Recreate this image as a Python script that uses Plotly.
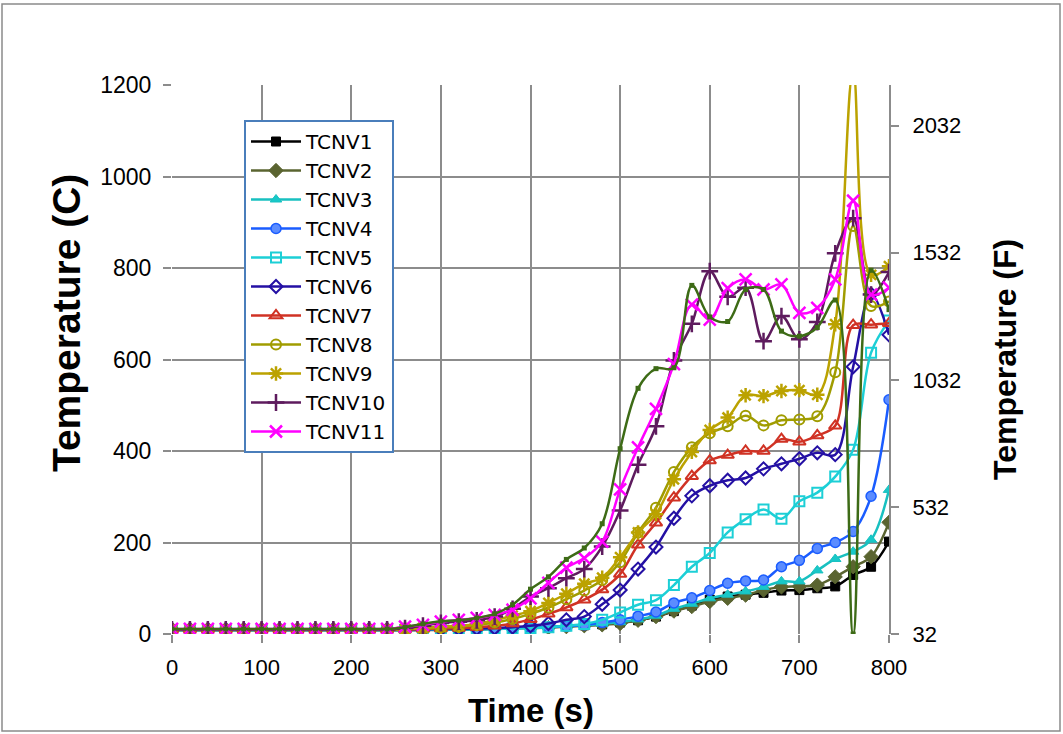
import plotly.graph_objects as go

# Time axis (s), one reading every 20 s
time_s = list(range(0, 801, 20))

# Thermocouple temperatures (C)
tcnv1 = [9]*13 + [9, 9, 10, 10, 11, 12, 13, 14, 15, 17, 19, 21, 25, 30, 38, 50, 62, 75, 82, 86, 90, 95, 96, 100, 104, 129, 147, 202]
tcnv2 = [8]*13 + [8, 9, 9, 10, 10, 11, 12, 13, 14, 16, 18, 20, 23, 30, 38, 50, 60, 71, 78, 85, 96, 103, 104, 107, 125, 147, 169, 244]
tcnv3 = [9]*13 + [9, 10, 10, 11, 11, 12, 13, 14, 15, 17, 19, 22, 26, 32, 40, 55, 66, 78, 86, 93, 103, 115, 115, 139, 164, 180, 206, 315]
tcnv4 = [10]*13 + [10, 10, 11, 11, 11, 12, 13, 14, 15, 17, 20, 25, 31, 39, 48, 68, 79, 95, 111, 116, 118, 147, 161, 187, 200, 224, 301, 512]
tcnv5 = [9]*13 + [9, 9, 10, 10, 10, 11, 12, 13, 15, 18, 22, 31, 47, 64, 74, 107, 147, 177, 222, 251, 272, 252, 290, 309, 344, 403, 615, 685]
tcnv6 = [10]*13 + [10, 10, 11, 11, 12, 13, 15, 18, 23, 31, 38, 65, 96, 142, 190, 253, 302, 324, 336, 341, 361, 372, 383, 396, 392, 584, 743, 654]
tcnv7 = [10]*13 + [10, 11, 12, 13, 15, 18, 23, 32, 44, 58, 75, 97, 131, 195, 243, 298, 345, 379, 391, 400, 400, 426, 420, 434, 455, 675, 676, 679]
tcnv8 = [10]*13 + [11, 12, 14, 16, 20, 25, 33, 44, 58, 76, 95, 118, 157, 222, 276, 354, 408, 439, 454, 477, 456, 467, 469, 476, 572, 892, 717, 727]
tcnv9 = [10]*13 + [11, 13, 16, 18, 22, 30, 40, 50, 68, 88, 110, 123, 168, 222, 262, 338, 398, 446, 473, 522, 520, 531, 533, 523, 677, 1230, 785, 804]
tcnv10 = [10]*13 + [13, 18, 24, 27, 30, 38, 55, 82, 100, 122, 142, 191, 270, 370, 454, 598, 678, 793, 737, 757, 640, 695, 644, 682, 832, 909, 742, 791]
tcnv11 = [11]*13 + [16, 20, 27, 31, 35, 42, 53, 78, 112, 145, 166, 202, 316, 408, 492, 590, 720, 687, 756, 775, 753, 764, 702, 713, 775, 947, 742, 757]
# Additional channel plotted without a legend entry
tcnv_aux = [11]*13 + [15, 22, 28, 30, 35, 44, 64, 98, 125, 163, 188, 241, 405, 537, 580, 582, 762, 693, 683, 753, 753, 662, 651, 670, 730, 0, 795, 709]

series = [
    ("TCNV1", tcnv1, "#000000", "square", "#000000", 9, 1),
    ("TCNV2", tcnv2, "#5a6430", "diamond", "#5a6430", 11, 1),
    ("TCNV3", tcnv3, "#18c0c0", "triangle-up", "#18c8c8", 10, 1),
    ("TCNV4", tcnv4, "#1a5cff", "circle", "#5b8cff", 10, 1.5),
    ("TCNV5", tcnv5, "#1ccfd6", "square-open", None, 10, 2),
    ("TCNV6", tcnv6, "#2410a4", "diamond-open", None, 10, 2),
    ("TCNV7", tcnv7, "#d03224", "triangle-up-open", None, 11, 2),
    ("TCNV8", tcnv8, "#a09c00", "circle-open", None, 10, 2),
    ("TCNV9", tcnv9, "#bba200", "asterisk-open", None, 12, 2.5),
    ("TCNV10", tcnv10, "#5e1b5e", "cross-thin-open", None, 12, 2.5),
    ("TCNV11", tcnv11, "#ff00ff", "x-thin-open", None, 12, 2.5),
]

W, H = 1063, 734
L, R, T, B = 172, 889, 85, 634   # plot area edges in pixels


def px_x(x):
    return (x - L) / (R - L)


def px_y(y):
    return (B - y) / (B - T)


fig = go.Figure()

for name, vals, color, symbol, fill, size, lw in series:
    marker = dict(symbol=symbol, size=size, color=fill if fill else color,
                  line=dict(color=color, width=lw))
    fig.add_trace(go.Scatter(
        x=time_s, y=vals, name=name, mode="lines+markers",
        line=dict(color=color, width=2.5, shape="spline", smoothing=1.0),
        marker=marker,
    ))

fig.add_trace(go.Scatter(
    x=time_s, y=tcnv_aux, name="TCNV2b", mode="lines+markers", showlegend=False,
    line=dict(color="#3d6b16", width=2.5, shape="spline", smoothing=1.0),
    marker=dict(symbol="square", size=5, color="#3d6b16"),
))

# Fahrenheit scale on the right: same extent as 0-1200 C
fig.add_trace(go.Scatter(x=[0], y=[32], yaxis="y2", mode="markers",
                         marker=dict(opacity=0), showlegend=False, hoverinfo="skip"))

grid = "#8c8c8c"
FONT = "Liberation Sans, Arial, sans-serif"

fig.update_layout(
    width=W, height=H,
    margin=dict(l=L, r=W - R, t=T, b=H - B),
    paper_bgcolor="white", plot_bgcolor="white",
    showlegend=True,
    legend=dict(
        x=px_x(244), y=px_y(120), xanchor="left", yanchor="top",
        bgcolor="white", bordercolor="#4a7ebb", borderwidth=2,
        font=dict(family="DejaVu Sans, sans-serif", size=20, color="#000000"),
        tracegroupgap=0, itemwidth=50,
    ),
    xaxis=dict(
        range=[0, 800], tickvals=list(range(0, 801, 100)),
        showgrid=True, gridcolor=grid, gridwidth=2,
        ticks="outside", ticklen=8, tickwidth=2, tickcolor=grid,
        showline=False, zeroline=False,
        tickfont=dict(family=FONT, size=22, color="#000"), ticklabelstandoff=6,
    ),
    yaxis=dict(
        range=[0, 1200], tickvals=list(range(0, 1201, 200)),
        showgrid=True, gridcolor=grid, gridwidth=2,
        ticks="outside", ticklen=8, tickwidth=2, tickcolor=grid,
        showline=False, zeroline=False,
        tickfont=dict(family=FONT, size=23, color="#000"), ticklabelstandoff=7,
    ),
    yaxis2=dict(
        overlaying="y", side="right",
        range=[32, 32 + 1200 * 1.8], tickvals=[32, 532, 1032, 1532, 2032],
        showgrid=False, zeroline=False,
        showline=True, linecolor=grid, linewidth=2,
        ticks="outside", ticklen=8, tickwidth=2, tickcolor=grid,
        tickfont=dict(family=FONT, size=22, color="#000"), ticklabelstandoff=9,
    ),
    shapes=[
        dict(type="rect", xref="paper", yref="paper",
             x0=px_x(2), x1=px_x(1060), y0=px_y(4), y1=px_y(731),
             line=dict(color="#8a8a8a", width=1.5), fillcolor="rgba(0,0,0,0)", layer="below"),
    ],
    annotations=[
        dict(text="<b>Time (s)</b>", xref="paper", yref="paper", x=px_x(531), y=px_y(710),
             xanchor="center", yanchor="middle", showarrow=False,
             font=dict(family=FONT, size=33, color="#000")),
        dict(text="<b>Temperature (C)</b>", xref="paper", yref="paper", x=px_x(66), y=px_y(323),
             xanchor="center", yanchor="middle", textangle=-90, showarrow=False,
             font=dict(family=FONT, size=39, color="#000")),
        dict(text="<b>Temperature (F)</b>", xref="paper", yref="paper", x=px_x(1005), y=px_y(360),
             xanchor="center", yanchor="middle", textangle=-90, showarrow=False,
             font=dict(family=FONT, size=32, color="#000")),
    ],
)

fig.write_html("out.html")
